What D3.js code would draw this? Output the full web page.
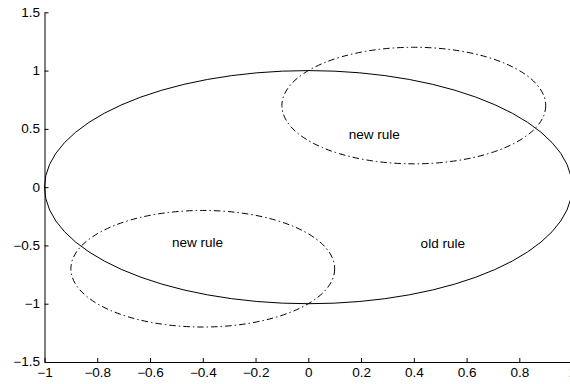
<!DOCTYPE html>
<html>
<head>
<meta charset="utf-8">
<script src="https://d3js.org/d3.v7.min.js"></script>
<style>
  body { margin: 0; background: #fff; }
  text { font-family: "Liberation Sans", Arial, sans-serif; }
</style>
</head>
<body>
<svg id="chart" width="570" height="384"></svg>
<script>
  var xTicks = [-1, -0.8, -0.6, -0.4, -0.2, 0, 0.2, 0.4, 0.6, 0.8, 1]
  var yTicks = [-1.5, -1, -0.5, 0, 0.5, 1, 1.5]

  // ellipses: centre and radii in data units
  var ellipseNames = ["old rule", "new rule A", "new rule B"]
  var ellipseCx = [0, 0.4, -0.4]
  var ellipseCy = [0, 0.7, -0.7]
  var ellipseRx = [1, 0.5, 0.5]
  var ellipseRy = [1, 0.5, 0.5]
  var ellipseDashed = [false, true, true]

  var labelText = ["new rule", "new rule", "old rule"]
  var labelX = [0.25, -0.42, 0.51]
  var labelY = [0.41, -0.51, -0.52]

  var svg = d3.select("#chart")

  var x = d3.scaleLinear().domain([-1, 1]).range([44.5, 572.1])
  var y = d3.scaleLinear().domain([-1.5, 1.5]).range([362, 12.3])

  var fmt = function (d) { return (d < 0 ? "\u2212" : "") + Math.abs(d) }
  var stretch = 1.13
  var fs = 12

  var gx = svg.append("g")
    .attr("transform", "translate(0,362)")
    .call(d3.axisBottom(x).tickValues(xTicks).tickFormat(fmt)
      .tickSizeInner(-4).tickSizeOuter(0).tickPadding(6))
  gx.select(".domain").attr("stroke", "#000")
  gx.selectAll("text")
    .attr("font-size", fs)
    .attr("fill", "#000")
    .attr("font-family", "'Liberation Sans', Arial, sans-serif")
    .attr("transform", "scale(" + stretch + ",1)")

  var gy = svg.append("g")
    .attr("transform", "translate(44.5,0)")
    .call(d3.axisLeft(y).tickValues(yTicks).tickFormat(fmt)
      .tickSizeInner(-4).tickSizeOuter(0).tickPadding(4))
  gy.select(".domain").attr("stroke", "#000")
  gy.selectAll("text")
    .attr("font-size", fs)
    .attr("fill", "#000")
    .attr("font-family", "'Liberation Sans', Arial, sans-serif")
    .attr("x", -4.5 / stretch)
    .attr("transform", "scale(" + stretch + ",1)")

  svg.append("g")
    .selectAll("ellipse")
    .data(ellipseNames)
    .join("ellipse")
    .attr("cx", (d, i) => x(ellipseCx[i]))
    .attr("cy", (d, i) => y(ellipseCy[i]))
    .attr("rx", (d, i) => x(ellipseCx[i] + ellipseRx[i]) - x(ellipseCx[i]))
    .attr("ry", (d, i) => y(ellipseCy[i]) - y(ellipseCy[i] + ellipseRy[i]))
    .attr("fill", "none")
    .attr("stroke", "#000")
    .attr("stroke-width", 1)
    .attr("stroke-dasharray", (d, i) => ellipseDashed[i] ? "6.5,3,1.5,3" : null)

  svg.append("g")
    .selectAll("text")
    .data(labelText)
    .join("text")
    .attr("transform", (d, i) => "translate(" + x(labelX[i]) + "," + y(labelY[i]) + ") scale(" + stretch + ",1)")
    .attr("text-anchor", "middle")
    .attr("font-size", fs)
    .attr("fill", "#000")
    .text(d => d)
</script>
</body>
</html>
